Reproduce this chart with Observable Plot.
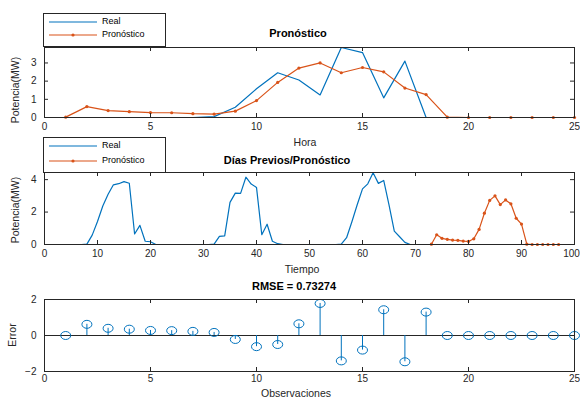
<!DOCTYPE html>
<html><head><meta charset="utf-8">
<script src="https://cdn.jsdelivr.net/npm/d3@7"></script>
<script src="https://cdn.jsdelivr.net/npm/@observablehq/plot@0.6"></script>
<style>
body{margin:0;background:#fff;font-family:"Liberation Sans",Arial,sans-serif;}
#fig{position:relative;width:580px;height:398px;overflow:hidden;background:#fff;}
#fig svg{position:absolute;left:0;}
.t{position:absolute;white-space:nowrap;transform:translateX(-50%);}
.title{font-weight:bold;font-size:11px;color:#000;line-height:11px;}
.xlab{font-size:10.5px;color:#262626;line-height:11px;}
.ylab{position:absolute;white-space:nowrap;font-size:10.5px;color:#262626;line-height:11px;transform:translate(-50%,-50%) rotate(-90deg);}
.legend{position:absolute;border:1px solid #262626;background:#fff;box-sizing:border-box;}
.legend span{position:absolute;font-size:9px;color:#000;line-height:9px;}
.legend svg{position:absolute;left:0;top:0;}
</style></head><body><div id="fig"></div>
<script>
// ---------- data ----------
const hours = d3.range(1, 26);
const realHourly = [0,0,0,0,0,0,0,0.05,0.56,1.58,2.46,2.06,1.24,3.85,3.57,1.08,3.10,0,0,0,0,0,0,0,0];
const forecastHourly = [0.02,0.60,0.38,0.32,0.27,0.26,0.21,0.19,0.35,0.93,1.93,2.72,3.00,2.46,2.75,2.51,1.62,1.26,0.02,0,0,0,0,0,0];
const prevDaysReal = [
  0,0,0,0,0,0,0,0.02,0.58,1.42,2.37,3.10,3.68,3.75,3.88,3.78,0.65,1.18,0.20,0.17,0,0,0,0,
  0,0,0,0,0,0,0,0.02,0.50,0.53,2.60,3.17,3.15,4.15,3.73,3.52,0.60,1.25,0.20,0.05,0,0,0,0,
  0,0,0,0,0,0,0,0.02,0.42,1.40,2.45,3.43,3.74,4.42,3.77,3.95,2.45,0.82,0.48,0.13,0,0,0,0
];
const forecastOffset = 72;
const errors = [0.00,0.62,0.40,0.35,0.28,0.27,0.23,0.17,-0.22,-0.62,-0.50,0.65,1.78,-1.41,-0.81,1.43,-1.46,1.30,0,0,0,0,0,0,0];
const rmseText = "RMSE = 0.73274";
const xTicksHour = [0,5,10,15,20,25];
const xTicksTime = [0,10,20,30,40,50,60,70,80,90,100];
const yTicksTop = [0,1,2,3];
const yTicksMid = [0,2,4];
const yTicksErr = [-2,0,2];

const BLUE = "#0072BD", ORANGE = "#D95319", AX = "#262626";
const FONT = '"Liberation Sans", Arial, sans-serif';
const fig = document.getElementById("fig");

function panel({top, height, mt, mb, xDomain, xTicks, yDomain, yTicks, xPad, marks}) {
  const ml = 44, mr = 6, W = 580;
  const fh = height - mt - mb, fw = W - ml - mr, tl = 4;
  const last = xTicks[xTicks.length - 1];
  const lastWide = String(last).length > 2;
  const mainTicks = lastWide ? xTicks.slice(0, -1) : xTicks;
  const svg = Plot.plot({
    width: W, height, marginTop: mt, marginBottom: mb, marginLeft: ml, marginRight: mr,
    style: {fontFamily: FONT, fontSize: "10px", color: AX, background: "transparent", overflow: "visible"},
    x: {domain: xDomain, label: null},
    y: {domain: yDomain, label: null},
    marks: [
      ...marks,
      Plot.axisX(mainTicks, {tickSize: 0, tickPadding: xPad, label: null, fill: AX}),
      ...(lastWide ? [Plot.axisX([last], {tickSize: 0, tickPadding: xPad, label: null, fill: AX, dx: -3})] : []),
      Plot.axisY(yTicks, {tickSize: 0, tickPadding: 8, label: null, fill: AX}),
      Plot.tickX(xTicks, {x: d => d, insetTop: fh - tl, stroke: AX}),
      Plot.tickX(xTicks, {x: d => d, insetBottom: fh - tl, stroke: AX}),
      Plot.tickY(yTicks, {y: d => d, insetRight: fw - tl, stroke: AX}),
      Plot.tickY(yTicks, {y: d => d, insetLeft: fw - tl, stroke: AX}),
      Plot.frame({stroke: AX, strokeWidth: 1})
    ]
  });
  svg.style.top = top + "px";
  fig.appendChild(svg);
}

function text(cls, str, x, y) {
  const d = document.createElement("div");
  d.className = cls === "ylab" ? "ylab" : "t " + cls;
  d.textContent = str;
  d.style.left = x + "px";
  d.style.top = (cls === "ylab" ? y : y - 5.5) + "px";
  fig.appendChild(d);
}

function legend(left, top, w, h, rows) {
  const d = document.createElement("div");
  d.className = "legend";
  d.style.left = left + "px"; d.style.top = top + "px";
  d.style.width = w + "px"; d.style.height = h + "px";
  const ns = "http://www.w3.org/2000/svg";
  const s = document.createElementNS(ns, "svg");
  s.setAttribute("width", w); s.setAttribute("height", h);
  rows.forEach(r => {
    const l = document.createElementNS(ns, "line");
    l.setAttribute("x1", 5); l.setAttribute("x2", 53);
    l.setAttribute("y1", r.y); l.setAttribute("y2", r.y);
    l.setAttribute("stroke", r.color); l.setAttribute("stroke-width", 1.2);
    s.appendChild(l);
    if (r.marker) {
      const c = document.createElementNS(ns, "circle");
      c.setAttribute("cx", 29); c.setAttribute("cy", r.y); c.setAttribute("r", 1.6);
      c.setAttribute("fill", r.color);
      s.appendChild(c);
    }
    const t = document.createElement("span");
    t.textContent = r.label;
    t.style.left = "58px"; t.style.top = (r.y - 5) + "px";
    d.appendChild(t);
  });
  d.insertBefore(s, d.firstChild);
  fig.appendChild(d);
}

// ---------- panel 1: hourly ----------
const realRows = hours.map((h, i) => ({x: h, y: realHourly[i]}));
const fcRows = hours.map((h, i) => ({x: h, y: forecastHourly[i]}));
panel({
  top: 40, height: 112, mt: 7, mb: 35, xPad: 5,
  xDomain: [0, 25], xTicks: xTicksHour, yDomain: [0, 3.85], yTicks: yTicksTop,
  marks: [
    Plot.line(realRows, {x: "x", y: "y", stroke: BLUE, strokeWidth: 1.2}),
    Plot.line(fcRows, {x: "x", y: "y", stroke: ORANGE, strokeWidth: 1.2}),
    Plot.dot(fcRows, {x: "x", y: "y", r: 1.6, fill: ORANGE})
  ]
});

// ---------- panel 2: previous days + forecast ----------
const prevRows = prevDaysReal.map((v, i) => ({x: i + 1, y: v}));
const fcRows2 = forecastHourly.map((v, i) => ({x: forecastOffset + i + 1, y: v}));
panel({
  top: 165, height: 110, mt: 7, mb: 31, xPad: 5,
  xDomain: [0, 100], xTicks: xTicksTime, yDomain: [0, 4.44], yTicks: yTicksMid,
  marks: [
    Plot.line(prevRows, {x: "x", y: "y", stroke: BLUE, strokeWidth: 1.2}),
    Plot.line(fcRows2, {x: "x", y: "y", stroke: ORANGE, strokeWidth: 1.2}),
    Plot.dot(fcRows2, {x: "x", y: "y", r: 1.6, fill: ORANGE})
  ]
});

// ---------- panel 3: error stems ----------
const ellipse = {
  draw(ctx) {
    const rx = 5, ry = 4, k = 0.5523;
    ctx.moveTo(rx, 0);
    ctx.bezierCurveTo(rx, ry * k, rx * k, ry, 0, ry);
    ctx.bezierCurveTo(-rx * k, ry, -rx, ry * k, -rx, 0);
    ctx.bezierCurveTo(-rx, -ry * k, -rx * k, -ry, 0, -ry);
    ctx.bezierCurveTo(rx * k, -ry, rx, -ry * k, rx, 0);
    ctx.closePath();
  }
};
const errRows = hours.map((h, i) => ({x: h, y: errors[i]}));
panel({
  top: 290, height: 108, mt: 9, mb: 27, xPad: 3,
  xDomain: [0, 25], xTicks: xTicksHour, yDomain: [-2, 2], yTicks: yTicksErr,
  marks: [
    Plot.ruleY([0], {stroke: AX, strokeWidth: 1}),
    Plot.ruleX(errRows, {x: "x", y1: 0, y2: "y", stroke: BLUE, strokeWidth: 1}),
    Plot.dot(errRows, {x: "x", y: "y", symbol: ellipse, stroke: BLUE, strokeWidth: 1, fill: "none"})
  ]
});

// ---------- texts ----------
text("title", "Pronóstico", 298, 33);
text("xlab", "Hora", 305, 142);
text("ylab", "Potencia(MW)", 15, 90);
text("title", "Días Previos/Pronóstico", 287, 160);
text("xlab", "Tiempo", 302, 269);
text("ylab", "Potencia(MW)", 15, 210);
text("title", rmseText, 294, 286);
text("xlab", "Observaciones", 296, 393);
text("ylab", "Error", 12, 335);

legend(43, 13, 123, 34, [
  {label: "Real", color: BLUE, y: 8},
  {label: "Pronóstico", color: ORANGE, y: 21, marker: true}
]);
legend(43, 137, 123, 36, [
  {label: "Real", color: BLUE, y: 8},
  {label: "Pronóstico", color: ORANGE, y: 23, marker: true}
]);
</script></body></html>
